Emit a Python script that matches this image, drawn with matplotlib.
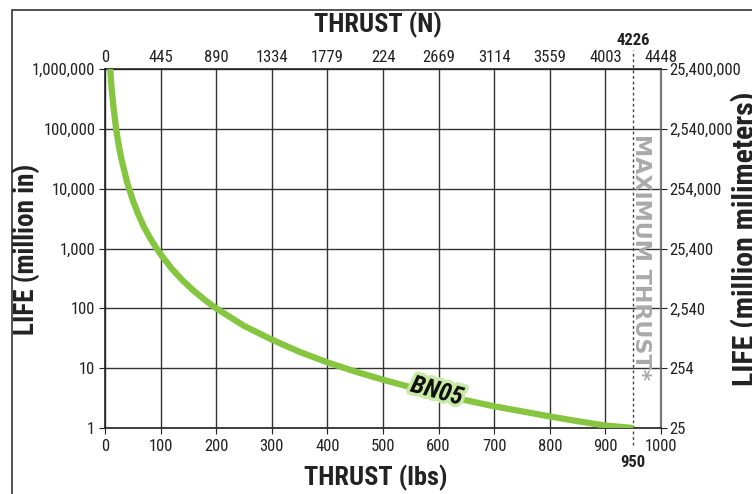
import matplotlib
matplotlib.use("Agg")
import logging
logging.getLogger('matplotlib.font_manager').setLevel(logging.ERROR)
import matplotlib.pyplot as plt
import matplotlib.patheffects as pe
from matplotlib.patches import Rectangle
from matplotlib.ticker import FixedLocator, NullLocator

plt.rcParams['font.family'] = ['Roboto Condensed', 'IBM Plex Sans Condensed', 'Fira Sans Condensed',
                               'Liberation Sans', 'DejaVu Sans']

# Data
thrust_lbs = [9.3, 12, 15, 20, 25, 30, 40, 50, 60, 70, 80, 90, 100, 120, 140, 160,
              180, 200, 250, 300, 350, 400, 450, 500, 550, 600, 650, 700, 750, 800,
              850, 900, 950]
life_million_in = [1000000, 460000, 240000, 100000, 51000, 30000, 12500, 6400, 3700,
                   2300, 1560, 1100, 800, 460, 290, 195, 137, 100, 51, 30, 18.7, 12.5,
                   8.8, 6.4, 4.8, 3.7, 2.9, 2.3, 1.9, 1.56, 1.3, 1.1, 1.0]

bottom_ticks = [0, 100, 200, 300, 400, 500, 600, 700, 800, 900, 1000]
top_tick_labels = ['0', '445', '890', '1334', '1779', '224', '2669', '3114', '3559', '4003', '4448']
left_ticks = [1, 10, 100, 1000, 10000, 100000, 1000000]
left_tick_labels = ['1', '10', '100', '1,000', '10,000', '100,000', '1,000,000']
right_tick_labels = ['25', '254', '2,540', '25,400', '254,000', '2,540,000', '25,400,000']
max_thrust_lbs = 950
max_thrust_n = '4226'

W, H = 752, 494
fig = plt.figure(figsize=(W / 100, H / 100), dpi=100)
ax = fig.add_axes([105 / W, 1 - 428 / H, (661 - 105) / W, (428 - 69) / H])

TL = 12
INK = '#222222'

# outer frame
fig.patches.append(Rectangle((12 / W, -0.1), 1.2, 1 - 10 / H + 0.1, transform=fig.transFigure,
                             fill=False, edgecolor='#333333', linewidth=1.2))

ax.set_yscale('log')
ax.set_xlim(0, 1000)
ax.set_ylim(1, 1000000)

ax.set_xticks(bottom_ticks)
ax.set_xticklabels([str(t) for t in bottom_ticks])
ax.yaxis.set_major_locator(FixedLocator(left_ticks))
ax.yaxis.set_minor_locator(NullLocator())
ax.set_yticklabels(left_tick_labels)
ax.tick_params(axis='both', labelsize=TL, colors=INK, length=4, width=0.8, pad=3)
ax.tick_params(axis='x', direction='out', pad=4)

ax.grid(True, which='major', color='#333333', linewidth=1.0)
for s in ['left', 'bottom', 'top']:
    ax.spines[s].set_color(INK)
    ax.spines[s].set_linewidth(1.2)
ax.spines['right'].set_color('#777777')
ax.spines['right'].set_linewidth(1.6)

# top axis
axt = ax.twiny()
axt.set_xlim(0, 1000)
axt.set_xticks(bottom_ticks)
axt.set_xticklabels(top_tick_labels)
axt.tick_params(axis='x', labelsize=TL, colors=INK, length=0, pad=3)

# right axis
axr = ax.twinx()
axr.set_yscale('log')
axr.set_ylim(1, 1000000)
axr.yaxis.set_major_locator(FixedLocator(left_ticks))
axr.yaxis.set_minor_locator(NullLocator())
axr.set_yticklabels(right_tick_labels)
axr.tick_params(axis='y', labelsize=TL, colors=INK, length=4, width=0.8, pad=2)
for a in (axt, axr):
    for s in a.spines.values():
        s.set_visible(False)

# curve
ax.plot(thrust_lbs, life_million_in, color='#86c540', linewidth=4.5, solid_capstyle='butt', zorder=5)

# maximum thrust line
ax.plot([max_thrust_lbs, max_thrust_lbs], [-0.047, 1.053], transform=ax.get_xaxis_transform(),
        color='#444444', linestyle=(0, (2, 2)), linewidth=1.0, clip_on=False, zorder=4)
ax.text(max_thrust_lbs, 1.08, max_thrust_n, transform=ax.get_xaxis_transform(),
        ha='center', va='center', fontsize=12, fontweight='bold', color=INK)
ax.text(max_thrust_lbs, -0.095, str(max_thrust_lbs), transform=ax.get_xaxis_transform(),
        ha='center', va='center', fontsize=12, fontweight='bold', color=INK)
fig.text(641 / W, 1 - 257 / H, 'MAXIMUM THRUST*', rotation=-90, ha='center', va='center',
         fontsize=16, fontweight='bold', color='#a9a9a9', family=['DejaVu Sans'])

# BN05 label
ax.text(597, 4.1, 'BN05', ha='center', va='center', fontsize=18, fontweight='bold',
        fontstyle='italic', rotation=-15, color='#111111', zorder=6,
        path_effects=[pe.withStroke(linewidth=5, foreground='#c8eaa6')])

# axis titles
fig.text(378 / W, 1 - 25 / H, 'THRUST (N)', ha='center', va='center', fontsize=19, fontweight='bold', color=INK)
fig.text(376 / W, 1 - 478 / H, 'THRUST (lbs)', ha='center', va='center', fontsize=19, fontweight='bold', color=INK)
fig.text(27 / W, 1 - 249 / H, 'LIFE (million in)', rotation=90, ha='center', va='center', fontsize=19.5, fontweight='bold', color=INK)
fig.text(746 / W, 1 - 386 / H, 'LIFE (million milimeters)', rotation=90, ha='center', va='bottom', fontsize=21.5, fontweight='bold', color=INK)

fig.savefig('out.png', dpi=100)
